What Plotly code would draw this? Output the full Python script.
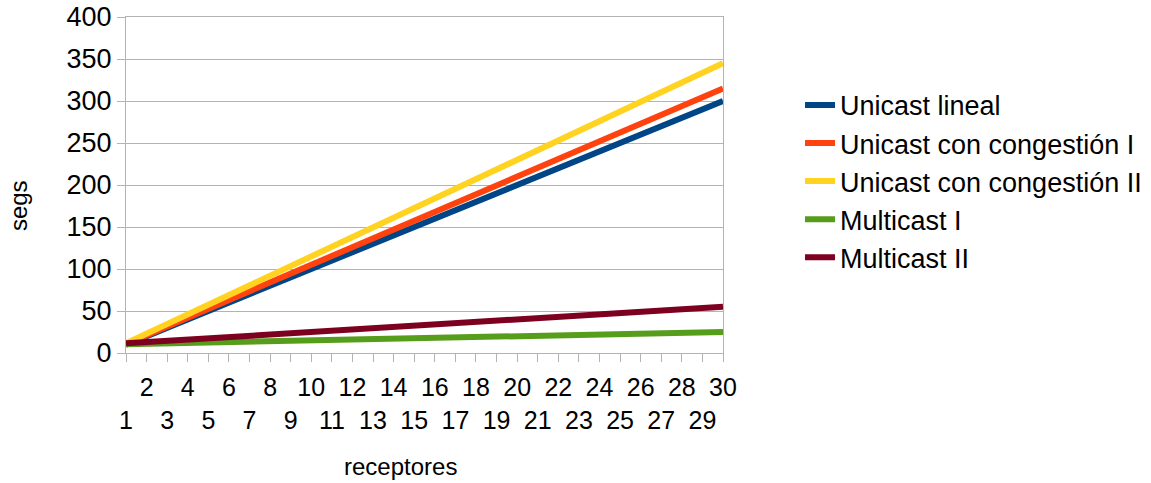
import plotly.graph_objects as go

# Number of receivers (x categories)
receptores = list(range(1, 31))

# Transfer time in seconds for each scenario
unicast_lineal = [10, 20, 30, 40, 50, 60, 70, 80, 90, 100, 110, 120, 130, 140, 150,
                  160, 170, 180, 190, 200, 210, 220, 230, 240, 250, 260, 270, 280, 290, 300]
unicast_cong_1 = [10.5, 21, 31.5, 42, 52.5, 63, 73.5, 84, 94.5, 105, 115.5, 126, 136.5, 147, 157.5,
                  168, 178.5, 189, 199.5, 210, 220.5, 231, 241.5, 252, 262.5, 273, 283.5, 294, 304.5, 315]
unicast_cong_2 = [11.5, 23, 34.5, 46, 57.5, 69, 80.5, 92, 103.5, 115, 126.5, 138, 149.5, 161, 172.5,
                  184, 195.5, 207, 218.5, 230, 241.5, 253, 264.5, 276, 287.5, 299, 310.5, 322, 333.5, 345]
multicast_1 = [10.5, 11, 11.5, 12, 12.5, 13, 13.5, 14, 14.5, 15, 15.5, 16, 16.5, 17, 17.5,
               18, 18.5, 19, 19.5, 20, 20.5, 21, 21.5, 22, 22.5, 23, 23.5, 24, 24.5, 25]
multicast_2 = [11.5, 13, 14.5, 16, 17.5, 19, 20.5, 22, 23.5, 25, 26.5, 28, 29.5, 31, 32.5,
               34, 35.5, 37, 38.5, 40, 41.5, 43, 44.5, 46, 47.5, 49, 50.5, 52, 53.5, 55]

y_ticks = [0, 50, 100, 150, 200, 250, 300, 350, 400]

series = [
    ("Unicast lineal", unicast_lineal, "#004586"),
    ("Unicast con congestión I", unicast_cong_1, "#ff420e"),
    ("Unicast con congestión II", unicast_cong_2, "#ffd320"),
    ("Multicast I", multicast_1, "#579d1c"),
    ("Multicast II", multicast_2, "#7e0021"),
]

FONT = "Liberation Sans, Arial, sans-serif"
GRID = "#b3b3b3"

fig = go.Figure()
for i, (name, vals, color) in enumerate(series):
    fig.add_trace(go.Scatter(
        x=receptores, y=vals, name=name, mode="lines",
        line=dict(color=color, width=6),
        legendgroup=f"g{i}",
    ))

# Staggered category labels: even numbers on the first row, odd on the second
tick_text = [str(v) if v % 2 == 0 else "<br>" + str(v) for v in receptores]

fig.update_layout(
    width=1151, height=483,
    margin=dict(l=126, r=428, t=17, b=130, autoexpand=False),
    paper_bgcolor="white", plot_bgcolor="white",
    font=dict(family=FONT, size=26, color="black"),
    showlegend=True,
    legend=dict(
        x=1.129, xanchor="left", y=0.81, yanchor="top",
        font=dict(family=FONT, size=27, color="black"),
        tracegroupgap=0, itemwidth=30,
        bgcolor="rgba(0,0,0,0)",
    ),
    xaxis=dict(
        range=[1, 30], tickmode="array", tickvals=receptores, ticktext=tick_text,
        tickangle=0, ticks="outside", ticklen=8, tickcolor=GRID,
        ticklabelstandoff=4,
        showgrid=False, showline=True, linecolor=GRID, linewidth=1, mirror=True,
        zeroline=False, tickfont=dict(size=25),
    ),
    yaxis=dict(
        range=[0, 400], tickmode="array", tickvals=y_ticks,
        ticks="outside", ticklen=8, tickcolor=GRID,
        showgrid=True, gridcolor=GRID, gridwidth=1,
        showline=True, linecolor=GRID, linewidth=1, mirror=True,
        zeroline=False, tickfont=dict(size=27),
    ),
    annotations=[
        dict(text="receptores", xref="paper", yref="paper", x=0.459, y=-0.339,
             xanchor="center", yanchor="middle", showarrow=False,
             font=dict(family=FONT, size=24, color="black")),
        dict(text="segs", xref="paper", yref="paper", x=-0.181, y=0.44,
             xanchor="center", yanchor="middle", showarrow=False, textangle=-90,
             font=dict(family=FONT, size=24, color="black")),
    ],
)

fig.write_html("out.html")
